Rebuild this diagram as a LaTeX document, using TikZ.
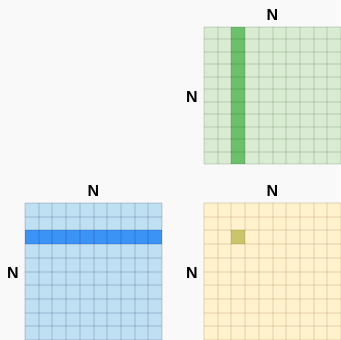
\documentclass[tikz,border=0pt]{standalone}
\usepackage{fontspec}
\setsansfont{Liberation Sans}
\usetikzlibrary{positioning}
\definecolor{bgcol}{HTML}{F9F9F9}
\definecolor{gfill}{HTML}{DAEBD4}
\definecolor{ghi}{HTML}{6CC06C}
\definecolor{bfill}{HTML}{BEE0F2}
\definecolor{bhi}{HTML}{3A93F5}
\definecolor{yfill}{HTML}{FFF2CD}
\definecolor{yhi}{HTML}{C9C56B}

\begin{document}
\begin{tikzpicture}[x=0.75pt,y=-0.75pt,
    lbl/.style={font=\sffamily\bfseries\fontsize{12}{14}\selectfont,inner sep=0pt},
    gline/.style={line width=1.5pt,draw=#1,draw opacity=0.09}]
    \fill[bgcol] (0,0) rectangle (340,340);
    \useasboundingbox (0,0) rectangle (340,340);
    % green matrix (top right), one column marked
    \fill[gfill] (204,27) rectangle (341,164);
    \fill[ghi] (231.4,27) rectangle (245.1,164);
    \foreach \i in {0,...,10}
        \draw[gline=green!25!black] (204+\i*13.7,27) -- ++(0,137);
    \foreach \j in {0,...,11}
        \draw[gline=green!25!black] (204,27+\j*12.45) -- ++(137,0);
    \node[lbl] (gtop) at (272.5,15) {N};
    \node[lbl] (gleft) at (192,97) {N};
    % blue matrix (bottom left), one row marked
    \fill[bfill] (25,203) rectangle (162,340);
    \fill[bhi] (25,230.4) rectangle (162,244.1);
    \foreach \i in {0,...,10}
        \draw[gline=blue!30!black] (25+\i*13.7,203) -- ++(0,137);
    \foreach \j in {0,...,10}
        \draw[gline=blue!30!black] (25,203+\j*13.7) -- ++(137,0);
    \node[lbl] (btop) at (93.5,191) {N};
    \node[lbl] (bleft) at (13,273) {N};
    % yellow matrix (bottom right), one cell marked
    \fill[yfill] (204,203) rectangle (341,340);
    \fill[yhi] (231.4,230.4) rectangle (245.1,244.1);
    \foreach \i in {0,...,10}
        \draw[gline=orange!40!black] (204+\i*13.7,203) -- ++(0,137);
    \foreach \j in {0,...,10}
        \draw[gline=orange!40!black] (204,203+\j*13.7) -- ++(137,0);
    \node[lbl] (ytop) at (272.5,191) {N};
    \node[lbl] (yleft) at (192,273) {N};
\end{tikzpicture}
\end{document}
